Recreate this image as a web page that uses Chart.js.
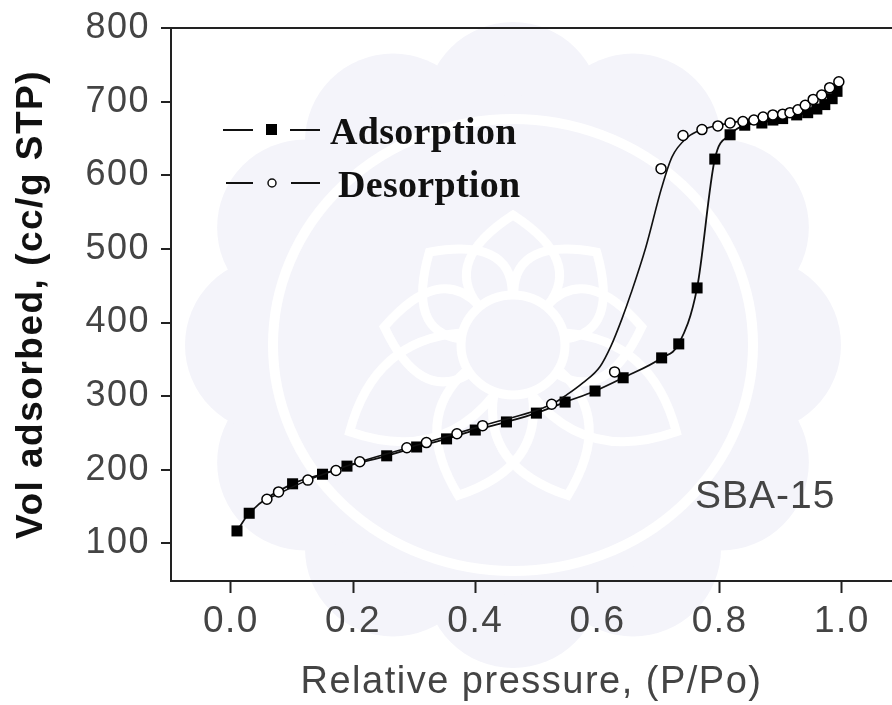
<!DOCTYPE html>
<html>
<head>
<meta charset="utf-8">
<title>SBA-15 isotherm</title>
<script src="https://cdn.jsdelivr.net/npm/chart.js@4"></script>
<style>
html, body { margin: 0; padding: 0; background: #fff; overflow: hidden; }
canvas { display: block; }
</style>
</head>
<body>
<canvas id="myChart" width="892" height="705"></canvas>
<script>
//Valores
const adsX = [0.01, 0.03, 0.101, 0.15, 0.19, 0.255, 0.304, 0.353, 0.40, 0.451, 0.50, 0.547, 0.596, 0.642, 0.705, 0.733, 0.763, 0.792, 0.817, 0.841, 0.869, 0.887, 0.903, 0.926, 0.944, 0.959, 0.972, 0.984, 0.992];
const adsY = [117, 141, 181, 194, 205, 219, 231, 242, 254, 265, 277, 292, 307, 325, 352, 371, 447, 622, 655, 668, 671, 675, 677, 682, 685, 690, 696, 704, 714];

const desX = [0.059, 0.078, 0.126, 0.172, 0.211, 0.288, 0.32, 0.37, 0.412, 0.525, 0.628, 0.704, 0.74, 0.771, 0.797, 0.817, 0.838, 0.856, 0.871, 0.887, 0.903, 0.915, 0.928, 0.94, 0.953, 0.967, 0.98, 0.995];
const desY = [160, 170, 186, 199, 211, 230, 237, 249, 260, 289, 333, 609, 654, 662, 667, 671, 673, 675, 679, 682, 683, 685, 689, 695, 703, 709, 719, 727];

//Linea de desorcion, no pasa por todos los marcadores
const desLineX = [0.059, 0.126, 0.211, 0.32, 0.412, 0.525, 0.55, 0.576, 0.604, 0.622, 0.64, 0.655, 0.679, 0.705, 0.722, 0.748, 0.771, 0.817, 0.871, 0.915, 0.953, 0.98, 0.995];
const desLineY = [160, 186, 211, 237, 260, 289, 302, 318, 340, 368, 405, 440, 502, 583, 625, 652, 662, 671, 679, 685, 703, 719, 727];

const xTicks = [0, 0.2, 0.4, 0.6, 0.8, 1.0];
const yTicks = [100, 200, 300, 400, 500, 600, 700, 800];

const xTitle = "Relative pressure, (P/Po)";
const yTitle = "Vol adsorbed, (cc/g STP)";
const sampleName = "SBA-15";
const legendNames = ["Adsorption", "Desorption"];

const toPoints = (xs, ys) => xs.map((x, i) => ({ x: x, y: ys[i] }));

//Sello de fondo, color muy claro
const watermark = {
    id: "watermark",
    beforeDraw(chart) {
        const ctx = chart.ctx;
        const cx = 513, cy = 345;
        ctx.save();
        ctx.fillStyle = "#f4f4fa";
        for (let i = 0; i < 12; i++) {
            const a = i * Math.PI / 6;
            ctx.beginPath();
            ctx.arc(cx + 240 * Math.cos(a), cy + 235 * Math.sin(a), 88, 0, Math.PI * 2);
            ctx.fill();
        }
        ctx.beginPath();
        ctx.ellipse(cx, cy, 260, 250, 0, 0, Math.PI * 2);
        ctx.fill();

        ctx.strokeStyle = "#ffffff";
        ctx.lineWidth = 10;
        ctx.beginPath();
        ctx.ellipse(cx, cy, 240, 226, 0, 0, Math.PI * 2);
        ctx.stroke();

        //Petalos
        ctx.lineWidth = 9;
        const petals = [[0, 130], [-42, 125], [42, 125], [-82, 130], [82, 130], [-118, 185], [118, 185], [-160, 160], [160, 160]];
        petals.forEach(p => {
            ctx.save();
            ctx.translate(cx, cy);
            ctx.rotate(p[0] * Math.PI / 180);
            ctx.beginPath();
            ctx.moveTo(-35, -40);
            ctx.quadraticCurveTo(-70, -p[1] * 0.65, 0, -p[1]);
            ctx.quadraticCurveTo(70, -p[1] * 0.65, 35, -40);
            ctx.stroke();
            ctx.restore();
        });
        ctx.beginPath();
        ctx.ellipse(cx, cy, 52, 50, 0, 0, Math.PI * 2);
        ctx.stroke();
        ctx.restore();
        ctx.letterSpacing = "1.5px";
    }
};

//Leyenda y nombre de la muestra
const labels = {
    id: "labels",
    afterDraw(chart) {
        const ctx = chart.ctx;
        ctx.save();
        ctx.letterSpacing = "0.3px";
        ctx.strokeStyle = "#111";
        ctx.lineWidth = 2;
        ctx.beginPath();
        ctx.moveTo(223, 130); ctx.lineTo(253, 130);
        ctx.moveTo(290, 130); ctx.lineTo(320, 130);
        ctx.moveTo(226, 183); ctx.lineTo(253, 183);
        ctx.moveTo(291, 183); ctx.lineTo(320, 183);
        ctx.stroke();

        ctx.fillStyle = "#000";
        ctx.fillRect(266, 124, 11, 11);
        ctx.lineWidth = 1.5;
        ctx.fillStyle = "#fff";
        ctx.beginPath();
        ctx.arc(272, 183, 4, 0, Math.PI * 2);
        ctx.fill();
        ctx.stroke();

        ctx.fillStyle = "#111";
        ctx.textBaseline = "alphabetic";
        ctx.font = "bold 38px 'Liberation Serif'";
        ctx.fillText(legendNames[0], 330, 144);
        ctx.fillText(legendNames[1], 338, 197);

        ctx.letterSpacing = "1px";
        ctx.fillStyle = "#444";
        ctx.font = "39px 'Liberation Sans'";
        ctx.fillText(sampleName, 695, 508);
        ctx.restore();
    }
};

const myChart = new Chart(document.getElementById("myChart"), {
    type: "scatter",
    data: {
        datasets: [
            {
                label: "Adsorption",
                data: toPoints(adsX, adsY),
                showLine: true,
                cubicInterpolationMode: "monotone",
                borderColor: "#111",
                borderWidth: 1.8,
                backgroundColor: "#000",
                pointStyle: "rect",
                pointRadius: 7.8,
                pointBorderWidth: 0,
                order: 3
            },
            {
                label: "Desorption line",
                data: toPoints(desLineX, desLineY),
                showLine: true,
                cubicInterpolationMode: "monotone",
                borderColor: "#111",
                borderWidth: 1.6,
                pointRadius: 0,
                order: 2
            },
            {
                label: "Desorption",
                data: toPoints(desX, desY),
                showLine: false,
                pointStyle: "circle",
                pointRadius: 5,
                pointBorderWidth: 1.5,
                pointBorderColor: "#000",
                pointBackgroundColor: "#fff",
                order: 1
            }
        ]
    },
    options: {
        responsive: false,
        devicePixelRatio: 1,
        animation: false,
        layout: { autoPadding: false, padding: { top: 28, right: 0, bottom: 0, left: 0 } },
        plugins: { legend: { display: false }, tooltip: { enabled: false } },
        scales: {
            x: {
                type: "linear",
                min: -0.098,
                max: 1.082,
                afterBuildTicks: scale => { scale.ticks = xTicks.map(v => ({ value: v })); },
                afterFit: scale => {
                    scale.height = 124;
                    scale.paddingLeft = 0;
                    scale.paddingRight = 0;
                },
                border: { color: "#222", width: 2 },
                grid: { drawOnChartArea: false, tickColor: "#222", tickLength: 12, tickWidth: 2 },
                ticks: {
                    color: "#444",
                    font: { family: "'Liberation Sans'", size: 37 },
                    padding: 7,
                    maxRotation: 0,
                    callback: v => v.toFixed(1)
                },
                title: {
                    display: true,
                    text: xTitle,
                    color: "#444",
                    font: { family: "'Liberation Sans'", size: 38 },
                    padding: { top: 0, bottom: 0 }
                }
            },
            y: {
                type: "linear",
                min: 49,
                max: 800,
                afterBuildTicks: scale => { scale.ticks = yTicks.map(v => ({ value: v })); },
                afterFit: scale => {
                    scale.width = 171;
                    scale.paddingTop = 0;
                    scale.paddingBottom = 0;
                },
                border: { color: "#222", width: 2 },
                grid: {
                    color: c => (c.tick && c.tick.value === 800 ? "#222" : "rgba(0,0,0,0)"),
                    tickColor: "#222",
                    tickLength: 10,
                    lineWidth: 2
                },
                ticks: {
                    color: "#444",
                    font: { family: "'Liberation Sans'", size: 36 },
                    padding: 11
                },
                title: {
                    display: true,
                    text: yTitle,
                    color: "#111",
                    font: { family: "'Liberation Sans'", size: 37, weight: "bold" },
                    padding: { top: 10, bottom: 0 }
                }
            }
        }
    },
    plugins: [watermark, labels]
});
</script>
</body>
</html>
